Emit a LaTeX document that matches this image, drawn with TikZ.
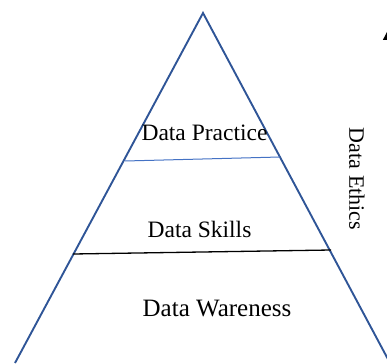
\documentclass[tikz,border=0pt]{standalone}
\usepackage{fontspec}
\setmainfont{Liberation Serif}
\usetikzlibrary{arrows.meta}
\definecolor{pyrblue}{HTML}{2F5597}
\definecolor{tierblue}{HTML}{4472C4}
\begin{document}
\begin{tikzpicture}[x=1pt,y=-1pt,
  edge/.style={draw=pyrblue,line width=1.9pt,line join=miter},
  tierline/.style={draw=tierblue,line width=1pt},
  baseline/.style={draw=black,line width=1.3pt},
  label/.style={inner sep=0pt,font=\fontsize{23.5}{26}\selectfont},
  arrowline/.style={draw=black,line width=1.3pt,-{Triangle[length=12pt,width=12pt]}}]
  \useasboundingbox (0,0) rectangle (387,363);
  % pyramid outline
  \coordinate (apex) at (203,13);
  \coordinate (bl) at (15,363);
  \coordinate (br) at (390,363);
  \draw[edge] (bl) -- (apex) -- (br);
  % tier separators
  \coordinate (t1l) at (125,161);
  \coordinate (t1r) at (280,157);
  \coordinate (t2l) at (73,254);
  \coordinate (t2r) at (331,250);
  \draw[tierline] (t1l) -- (t1r);
  \draw[baseline] (t2l) -- (t2r);
  % tier labels
  \node[label] (practice) at (204.5,133) {Data Practice};
  \node[label] (skills) at (199.5,229) {Data Skills};
  \node[label,font=\fontsize{25}{28}\selectfont] (awareness) at (217,309) {Data Wareness};
  \node[label,font=\fontsize{22}{25}\selectfont,rotate=-90] (ethics) at (357,179) {Data Ethics};
  % upward arrow along the right side
  \coordinate (arrbase) at (389,363);
  \coordinate (arrtip) at (389,28);
  \draw[arrowline] (arrbase) -- (arrtip);
\end{tikzpicture}
\end{document}
